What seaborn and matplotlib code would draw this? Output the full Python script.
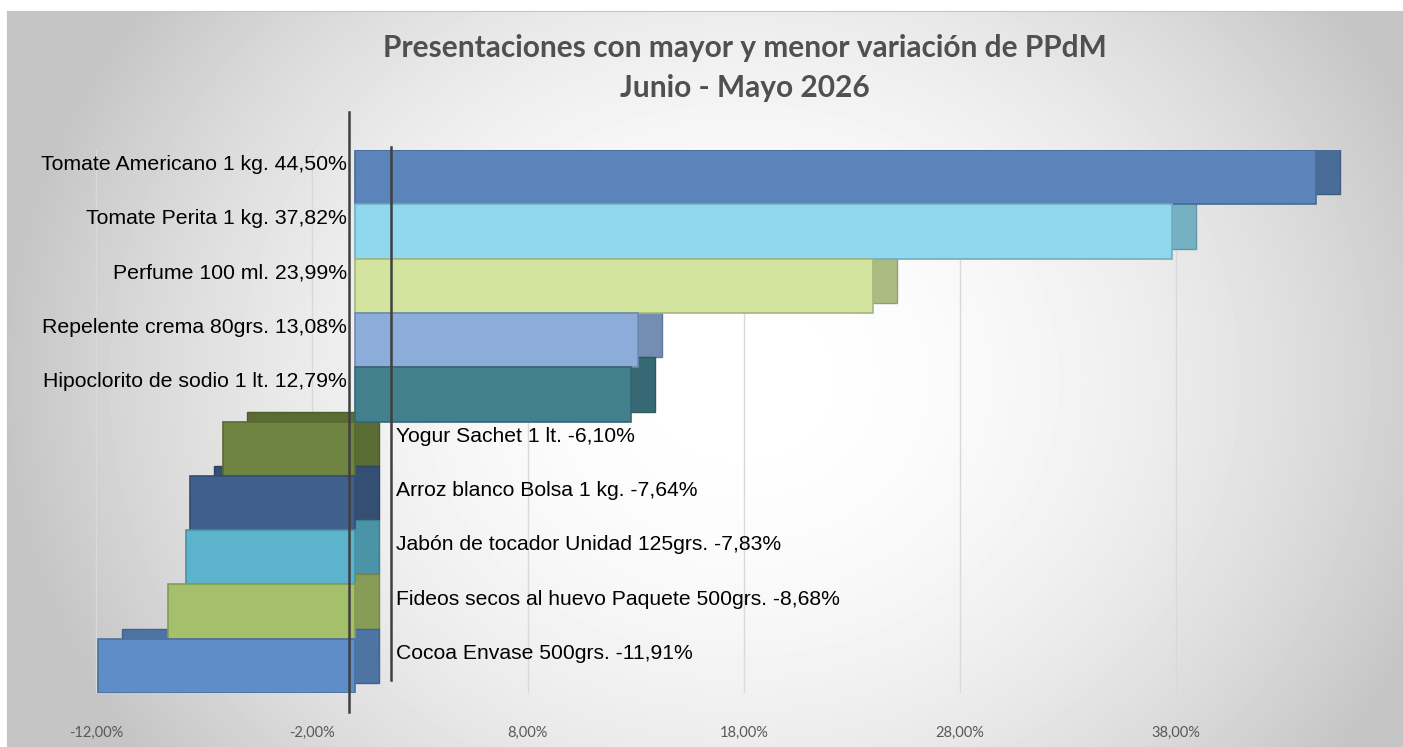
import matplotlib
matplotlib.use("Agg")
import matplotlib.pyplot as plt
import matplotlib.transforms as mtransforms
from matplotlib.patches import Rectangle
import matplotlib.colors as mcolors
import numpy as np
import pandas as pd
import seaborn as sns

# datos
productos = [
    "Tomate Americano 1 kg.",
    "Tomate Perita 1 kg.",
    "Perfume 100 ml.",
    "Repelente crema 80grs.",
    "Hipoclorito de sodio 1 lt.",
    "Yogur Sachet 1 lt.",
    "Arroz blanco Bolsa 1 kg.",
    "Jabón de tocador Unidad 125grs.",
    "Fideos secos al huevo Paquete 500grs.",
    "Cocoa Envase 500grs.",
]
variacion = [44.50, 37.82, 23.99, 13.08, 12.79, -6.10, -7.64, -7.83, -8.68, -11.91]
ticks = [-12, -2, 8, 18, 28, 38]
colores = ["#5A84BA", "#8FD8EE", "#D2E49E", "#8CACDA", "#43808E",
           "#6E8440", "#40608C", "#5BB4CC", "#A5C06A", "#5F8DC8"]

titulo = "Presentaciones con mayor y menor variación de PPdM\nJunio - Mayo 2026"


def fmt(v):
    return f"{v:.2f}%".replace(".", ",")


df = pd.DataFrame({"producto": productos, "variacion": variacion})
df["etiqueta"] = [f"{p} {fmt(v)}" for p, v in zip(productos, variacion)]

W, H = 1403, 747
fig = plt.figure(figsize=(W / 100, H / 100), dpi=100)
fig.patch.set_facecolor("white")

# fondo con degradado radial
bg = fig.add_axes([7 / W, 0, 1 - 7 / W, 1 - 11 / H])
xx, yy = np.meshgrid(np.linspace(7, W, 400), np.linspace(11, H, 220))
r2 = ((xx - 740) / 690) ** 2 + ((yy - 380) / 600) ** 2
grad = np.clip(1 - 0.2 * r2, 0.77, 1)
bg.imshow(grad, cmap="gray", vmin=0, vmax=1, aspect="auto",
          extent=[0, 1, 0, 1], interpolation="bilinear")
bg.set_xticks([])
bg.set_yticks([])
for s in ["right", "bottom"]:
    bg.spines[s].set_visible(False)
for s in ["top", "left"]:
    bg.spines[s].set_color("#c4c4c4")

# ejes principales
left_px, right_px, top_px, bot_px = 30, 1395, 150, 693
zero_px, px_per = 355, 21.6
ax = fig.add_axes([left_px / W, (H - bot_px) / H,
                   (right_px - left_px) / W, (bot_px - top_px) / H])
ax.patch.set_alpha(0)

sns.barplot(data=df, x="variacion", y="producto", hue="producto",
            palette=colores, orient="h", width=1.0, legend=False,
            saturation=1, ax=ax, zorder=3)

ax.set_xlim((left_px - zero_px) / px_per, (right_px - zero_px) / px_per)
ax.set_ylim(len(productos) - 0.5, -0.5)

# efecto 3D: cara trasera desplazada
back = mtransforms.offset_copy(ax.transData, fig=fig, x=24, y=10, units="dots")
for bar, c in zip(ax.patches, colores):
    rgb = np.array(mcolors.to_rgb(c))
    bar.set_edgecolor(tuple(rgb * 0.8))
    bar.set_linewidth(1.2)
    ax.add_patch(Rectangle(bar.get_xy(), bar.get_width(), bar.get_height(),
                           transform=back, facecolor=tuple(rgb * 0.82),
                           edgecolor=tuple(rgb * 0.7), lw=1, zorder=2))

# etiquetas de categorias
for i, (v, lab) in enumerate(zip(df["variacion"], df["etiqueta"])):
    if v >= 0:
        ax.annotate(lab, (0, i), xytext=(-6, 9), textcoords="offset points",
                    ha="right", va="center", fontsize=15.3,
                    family="Liberation Sans", color="black", zorder=5)
    else:
        ax.annotate(lab, (0, i), xytext=(29.5, 9), textcoords="offset points",
                    ha="left", va="center", fontsize=15.2,
                    family="Liberation Sans", color="black", zorder=5)

# lineas verticales del eje
front = mtransforms.offset_copy(ax.get_xaxis_transform(), fig=fig, x=-6, units="dots")
ax.plot([0, 0], [-0.035, 1.07], transform=front, color="#3f3f3f",
        lw=1.8, clip_on=False, zorder=6)
back_ax = mtransforms.offset_copy(ax.get_xaxis_transform(), fig=fig, x=36, units="dots")
ax.plot([0, 0], [0.024, 1.005], transform=back_ax, color="#3f3f3f",
        lw=1.8, clip_on=False, zorder=6)

ax.set_xticks(ticks)
ax.set_xticklabels([fmt(t) for t in ticks], fontsize=10.5, family="Lato",
                   color="#595959")
ax.tick_params(axis="x", length=0, pad=24)
ax.set_yticks([])
ax.grid(axis="x", color="#d9d9d9", lw=1, zorder=0)
ax.set_axisbelow(True)
ax.set_xlabel("")
ax.set_ylabel("")
for s in ax.spines.values():
    s.set_visible(False)

fig.text(0.531, 1 - 68 / H, titulo, ha="center", va="center",
         fontsize=21.5, fontweight="bold", family="Lato", color="#505050",
         linespacing=1.55)

fig.savefig("out.png", dpi=100)
plt.close(fig)
